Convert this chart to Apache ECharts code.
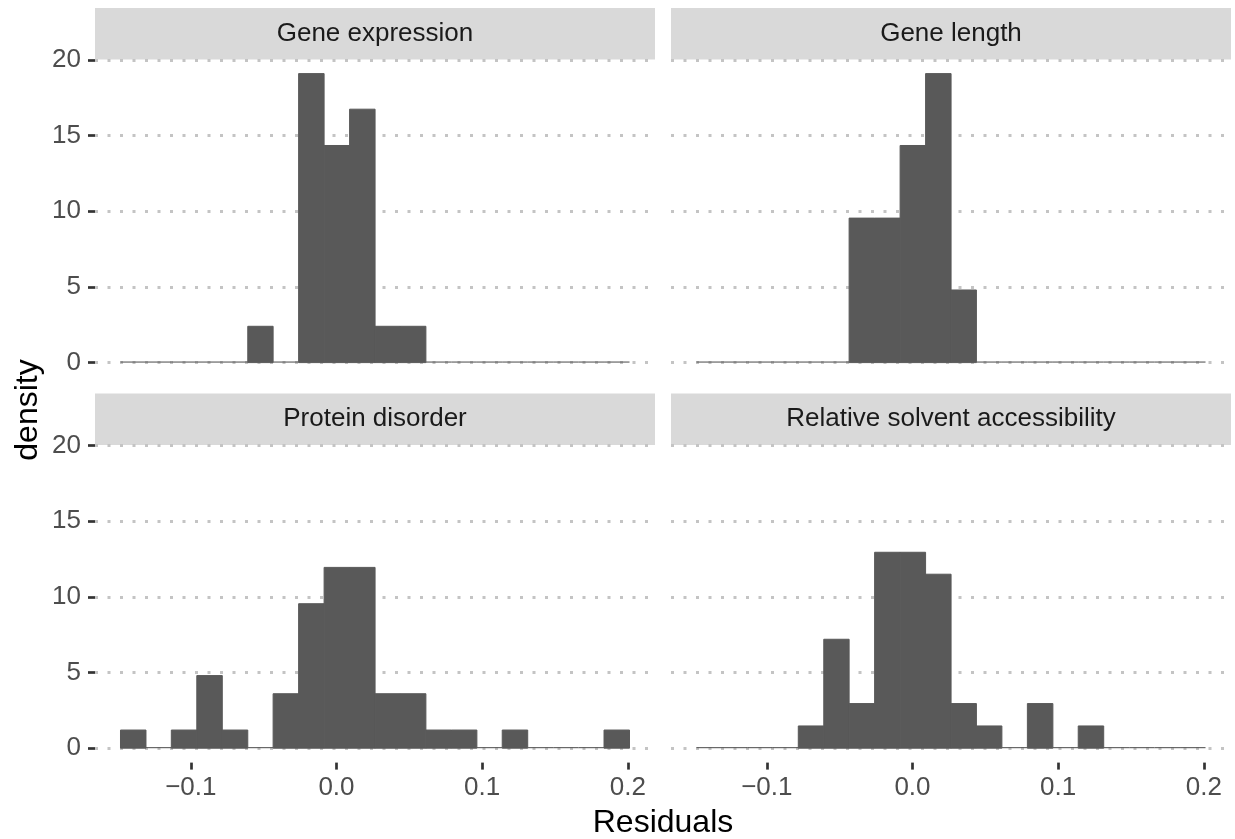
<!DOCTYPE html>
<html>
<head>
<meta charset="utf-8">
<script src="https://cdn.jsdelivr.net/npm/echarts@6/dist/echarts.min.js"></script>
<style>
  html, body { margin: 0; padding: 0; background: #ffffff; }
  #chart { width: 1235px; height: 839px; }
</style>
</head>
<body>
<div id="chart"></div>
<script>
// ---- data ----
const panelTitles = ["Gene expression", "Gene length", "Protein disorder", "Relative solvent accessibility"];
const binEdges = [-0.1483, -0.1308, -0.1134, -0.0959, -0.0784, -0.0609, -0.0435, -0.0260, -0.0085, 0.0090,
                  0.0265, 0.0439, 0.0614, 0.0789, 0.0964, 0.1138, 0.1313, 0.1488, 0.1663, 0.1837, 0.2012];
const geneExpression = [0, 0, 0, 0, 0, 2.4, 0, 19.1, 14.35, 16.75, 2.4, 2.4, 0, 0, 0, 0, 0, 0, 0, 0];
const geneLength     = [0, 0, 0, 0, 0, 0, 9.55, 9.55, 14.35, 19.1, 4.8, 0, 0, 0, 0, 0, 0, 0, 0, 0];
const proteinDisorder = [1.2, 0, 1.2, 4.8, 1.2, 0, 3.6, 9.55, 11.95, 11.95, 3.6, 3.6, 1.2, 1.2, 0, 1.2, 0, 0, 0, 1.2];
const solventAccess  = [0, 0, 0, 0, 1.47, 7.2, 2.95, 12.95, 12.95, 11.5, 2.95, 1.47, 0, 2.95, 0, 1.47, 0, 0, 0, 0];
const xTicks = [-0.1, 0.0, 0.1, 0.2];
const yTicks = [0, 5, 10, 15, 20];
const panelValues = [geneExpression, geneLength, proteinDisorder, solventAccess];

// ---- layout ----
const FONT = "'Liberation Sans', Arial, Helvetica, sans-serif";
const BAR = '#595959';
const X_MIN = -0.1658, X_MAX = 0.2187;
const colLeft = [95, 671], colWidth = 560;
const rowTop = [60, 445.6], rowHeight = 302.6;
const stripTop = [8, 393.5], stripHeight = 51.5;
const xAxisOffset = 14.4;

function renderBin(params, api) {
  const x0 = api.value(0), x1 = api.value(1), v = api.value(2);
  const pTop = api.coord([x0, v]);
  const pBase = api.coord([x1, 0]);
  const w = pBase[0] - pTop[0];
  let h = pBase[1] - pTop[1];
  if (h < 1) {
    return { type: 'rect', shape: { x: pTop[0], y: pBase[1] - 1.1, width: w, height: 1.1 },
             style: { fill: BAR } };
  }
  return { type: 'rect', shape: { x: pTop[0], y: pTop[1], width: w, height: h },
           style: { fill: BAR, stroke: BAR, lineWidth: 1 } };
}

const grids = [], xAxes = [], yAxes = [], series = [], graphics = [];
for (let i = 0; i < 4; i++) {
  const col = i % 2, row = Math.floor(i / 2);
  grids.push({ left: colLeft[col], top: rowTop[row], width: colWidth, height: rowHeight,
               containLabel: false, outerBoundsMode: 'none' });
  const bottomRow = row === 1;
  xAxes.push({
    type: 'value', gridIndex: i, min: X_MIN, max: X_MAX, offset: xAxisOffset, position: 'bottom',
    axisLine: { show: false, onZero: false },
    axisTick: { show: bottomRow, customValues: xTicks, length: 7, lineStyle: { color: '#333333', width: 2.7 } },
    axisLabel: { show: bottomRow, customValues: xTicks, margin: 12, color: '#4d4d4d', fontSize: 26, fontFamily: FONT,
                 formatter: v => (v < 0 ? '\u2212' : '') + Math.abs(v).toFixed(1) },
    splitLine: { show: false }
  });
  yAxes.push({
    type: 'value', gridIndex: i, min: 0, max: 20, interval: 5, position: 'left',
    axisLine: { show: false, onZero: false },
    axisTick: { show: col === 0, length: 7, lineStyle: { color: '#333333', width: 2.7 } },
    axisLabel: { show: col === 0, margin: 14, color: '#4d4d4d', fontSize: 26, fontFamily: FONT },
    splitLine: { show: true, lineStyle: { color: '#c4c4c4', width: 3, type: [3, 9.5], cap: 'butt' } }
  });
  const vals = panelValues[i];
  series.push({
    type: 'custom', xAxisIndex: i, yAxisIndex: i, clip: false,
    renderItem: renderBin,
    encode: { x: [0, 1], y: 2 },
    data: vals.map((v, k) => [binEdges[k], binEdges[k + 1], v]),
    silent: true
  });
  graphics.push({ type: 'rect', left: colLeft[col], top: stripTop[row],
                  shape: { width: colWidth, height: stripHeight }, style: { fill: '#d9d9d9' } });
  graphics.push({ type: 'text', x: colLeft[col] + colWidth / 2, y: stripTop[row] + stripHeight / 2,
                  style: { text: panelTitles[i], fill: '#1a1a1a', fontSize: 26, fontFamily: FONT,
                           align: 'center', verticalAlign: 'middle' } });
}
graphics.push({ type: 'text', x: 28, y: 410, rotation: Math.PI / 2,
                style: { text: 'density', fill: '#000000', fontSize: 32, fontFamily: FONT,
                         align: 'center', verticalAlign: 'middle' } });
graphics.push({ type: 'text', x: 663, y: 823,
                style: { text: 'Residuals', fill: '#000000', fontSize: 32, fontFamily: FONT,
                         align: 'center', verticalAlign: 'middle' } });

const chart = echarts.init(document.getElementById('chart'), null, { renderer: 'canvas' });
chart.setOption({
  animation: false,
  backgroundColor: '#ffffff',
  grid: grids, xAxis: xAxes, yAxis: yAxes, series: series, graphic: graphics
});
</script>
</body>
</html>
